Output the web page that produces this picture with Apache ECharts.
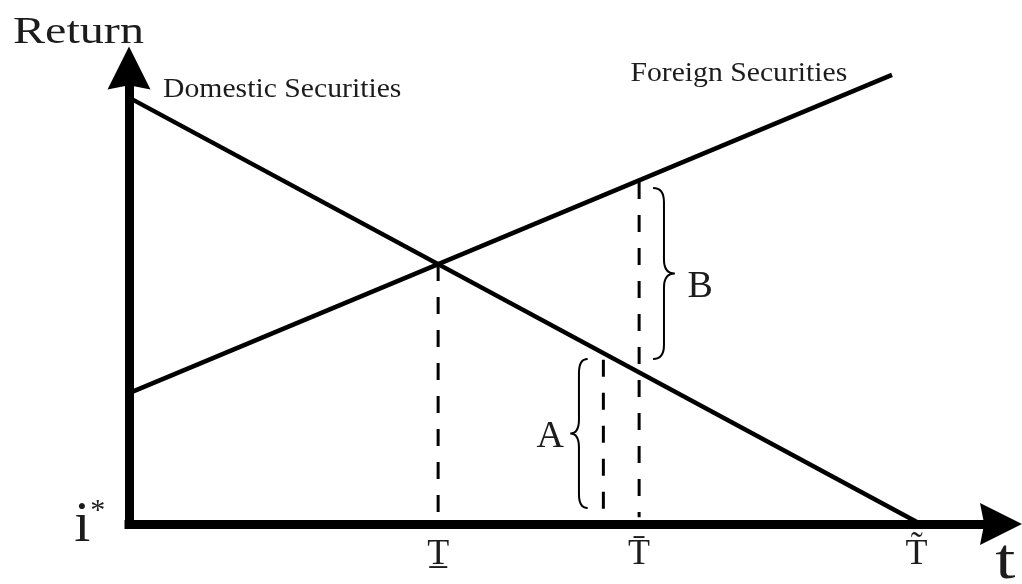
<!DOCTYPE html>
<html>
<head>
<meta charset="utf-8">
<title>Return</title>
<style>
  html, body { margin: 0; padding: 0; background: #fff; }
  #main { width: 1022px; height: 584px; }
</style>
</head>
<body>
<div id="main"></div>
<script src="https://cdn.jsdelivr.net/npm/echarts@6/dist/echarts.min.js"></script>
<script>
// return schedules, [t, return]
const domesticReturn = [[0, 93.5], [90.3, 0.5]]
const foreignReturn = [[0, 28.7], [87.5, 98.5]]

// dashed drop lines: x position and the top of each line
const dropX = [35.45, 54.4, 58.5]
const dropTop = [57, 36, 75]
const dropBottom = 1.5

// labels under the t axis
const tickValues = [35.45, 58.5, 90.3]
const tickLabels = ['T\u0332', 'T\u0304', 'T\u0303']

// braces: [x of the ends, x of the point, bottom, top]
const braceA = [52.6, 50.6, 3.5, 36.2]
const braceB = [60.1, 62.6, 36.2, 73.7]
const braceNames = ['A', 'B']

const axisNames = ['Return', 't']
const lineNames = ['Domestic Securities', 'Foreign Securities']
const originName = 'i*'

const serif = '"Liberation Serif", "Times New Roman", Times, serif'
const fontOf = size => size + 'px ' + serif
const ink = '#1c1c1c'

// where each text sits (data coords) and how it looks
const textItems = [
  { text: axisNames[0], at: [-13.3, 107.7], size: 37, sx: 1.3, align: 'left' },
  { text: axisNames[1], at: [100.5, -8.6], size: 58, sx: 1.25, align: 'center' },
  { text: lineNames[0], at: [3.9, 95.1], size: 27, sx: 1.1, align: 'left' },
  { text: lineNames[1], at: [57.5, 98.6], size: 27, sx: 1.1, align: 'left' },
  { text: braceNames[0], at: [48.3, 19.1], size: 38, sx: 1, align: 'center' },
  { text: braceNames[1], at: [65.5, 52.0], size: 38, sx: 1, align: 'center' },
  { text: originName, at: [-4.5, -0.3], size: 58, sx: 1, align: 'center', rich: true }
].concat(tickValues.map((v, i) => ({ text: tickLabels[i], at: [v, -6.8], size: 36, sx: 1, align: 'center' })))

// arrow head, pointing up
const arrow = 'path://M10,0 L20,20 L10,18 L0,20 Z'

function renderText(params, api) {
  const item = textItems[params.dataIndex]
  const p = api.coord([api.value(0), api.value(1)])
  const style = {
    text: item.text,
    font: fontOf(item.size),
    fill: ink,
    align: item.align,
    verticalAlign: 'middle'
  }
  if (item.rich) {
    // i with a small raised star
    style.text = '{i|' + item.text[0] + '}{s|' + item.text.slice(1) + '}'
    style.rich = {
      i: { font: fontOf(item.size), fill: ink },
      s: { font: fontOf(30), fill: ink, verticalAlign: 'top' }
    }
  }
  return { type: 'text', x: p[0], y: p[1], scaleX: item.sx, style }
}

function renderBrace(params, api) {
  const xe = api.value(0)
  const xt = api.value(1)
  const yb = api.value(2)
  const yt = api.value(3)
  const top = api.coord([xe, yt])
  const bot = api.coord([xe, yb])
  const tip = api.coord([xt, (yb + yt) / 2])
  const ex = top[0], tx = tip[0], my = tip[1], ty = top[1], by = bot[1]
  const sx = ex + (tx - ex) * 0.5
  const r = 14
  const d = 'M' + ex + ',' + ty +
    ' Q' + sx + ',' + ty + ' ' + sx + ',' + (ty + r) +
    ' L' + sx + ',' + (my - r) +
    ' Q' + sx + ',' + my + ' ' + tx + ',' + my +
    ' Q' + sx + ',' + my + ' ' + sx + ',' + (my + r) +
    ' L' + sx + ',' + (by - r) +
    ' Q' + sx + ',' + by + ' ' + ex + ',' + by
  return {
    type: 'path',
    shape: { pathData: d },
    style: { stroke: '#000', fill: 'none', lineWidth: 2 }
  }
}

const dom = document.querySelector('#main')
const myChart = echarts.init(dom)

const axisBase = {
  type: 'value',
  min: 0,
  max: 100,
  axisTick: { show: false },
  axisLabel: { show: false },
  splitLine: { show: false }
}

option = {
  backgroundColor: '#fff',
  animation: false,
  grid: { left: 129, right: 21, top: 68, bottom: 60 },
  xAxis: Object.assign({}, axisBase, {
    axisLine: {
      show: true,
      symbol: ['none', arrow],
      symbolSize: [43, 42],
      lineStyle: { color: '#000', width: 9, cap: 'square' }
    }
  }),
  yAxis: Object.assign({}, axisBase, {
    axisLine: {
      show: true,
      symbol: ['none', arrow],
      symbolSize: [43, 50],
      lineStyle: { color: '#000', width: 9, cap: 'square' }
    }
  }),
  series: [
    {
      name: lineNames[0],
      type: 'line',
      data: domesticReturn,
      symbol: 'none',
      lineStyle: { color: '#000', width: 4.5 }
    },
    {
      name: lineNames[1],
      type: 'line',
      data: foreignReturn,
      symbol: 'none',
      lineStyle: { color: '#000', width: 4.5 }
    },
    // dashes start at the top end of each drop line
    ...dropX.map((x, i) => ({
      type: 'line',
      data: [[x, dropTop[i]], [x, dropBottom]],
      symbol: 'none',
      lineStyle: { color: '#000', width: 3, type: [17, 16] }
    })),
    {
      type: 'custom',
      data: [braceA, braceB],
      renderItem: renderBrace
    },
    {
      type: 'custom',
      data: textItems.map(t => t.at),
      renderItem: renderText
    }
  ]
}

myChart.setOption(option)
</script>
</body>
</html>
